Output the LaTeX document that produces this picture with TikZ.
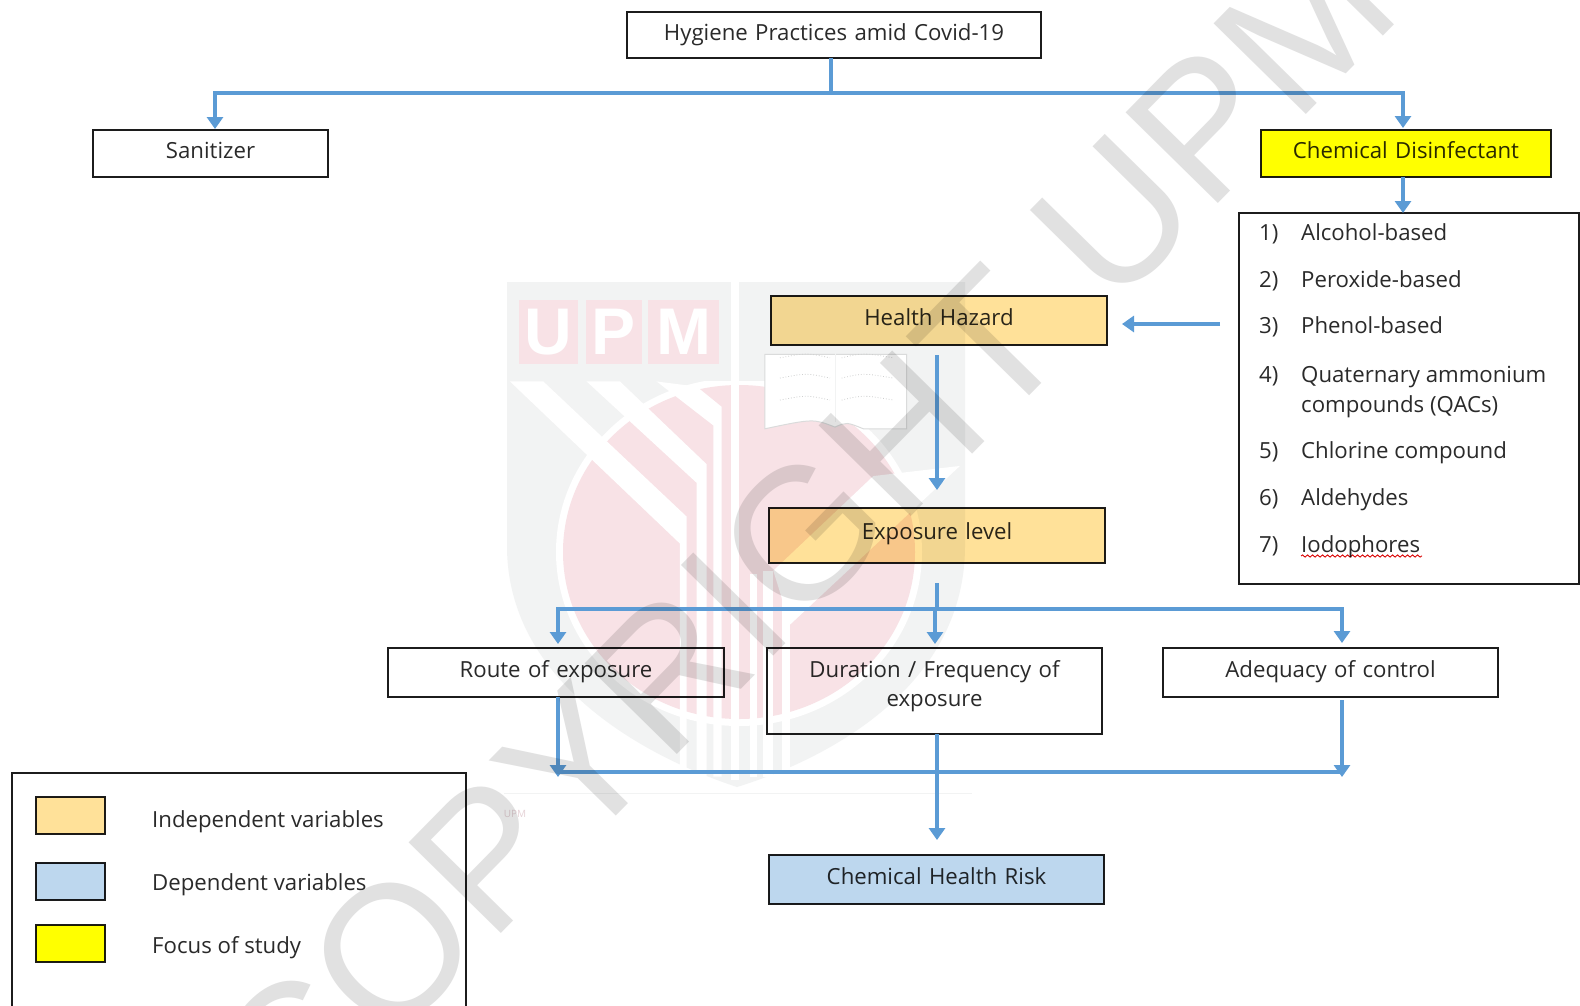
\documentclass[tikz,border=0pt]{standalone}
\usepackage{fontspec}
\setmainfont{Open Sans}
\newfontfamily\wmfont{Liberation Sans}
\usetikzlibrary{arrows.meta,decorations.pathmorphing}
\definecolor{conn}{HTML}{5B9BD5}
\definecolor{indep}{HTML}{FFE199}
\definecolor{dep}{HTML}{BDD7EE}
\definecolor{focus}{HTML}{FFFF00}
\definecolor{frame}{HTML}{1C1C1C}
\definecolor{ink}{HTML}{2A2A2A}
\definecolor{wm}{HTML}{E1E1E1}
\definecolor{shield}{HTML}{F2F3F3}
\definecolor{pinkd}{HTML}{F8E2E6}
\tikzset{
  txt/.style={font=\fontsize{22.2}{29}\selectfont,text=ink},
  boxn/.style={draw=frame,line width=1.8pt,inner sep=0pt,outer sep=0pt,anchor=north west,align=center,txt},
  itemn/.style={anchor=base west,inner sep=0pt,txt},
  swatch/.style={draw=frame,line width=1.8pt,inner sep=0pt,outer sep=0pt,anchor=north west,minimum width=69pt,minimum height=37pt},
  conline/.style={draw=conn,line width=3.8pt},
  conarrow/.style={conline,-{Triangle[length=12pt,width=16pt]}},
  wstripe/.style={fill=white,draw=none},
  logoletter/.style={font=\wmfont\bfseries\fontsize{66}{66}\selectfont,text=white,inner sep=0pt},
}
\begin{document}
\begin{tikzpicture}[x=1pt,y=-1pt]
\useasboundingbox (0,0) rectangle (1580,1005);
\fill[white] (0,0) rectangle (1580,1005);
% UPM logo
\fill[shield] (507,282) -- (965,282) -- (965,546) .. controls (965,680) and (840,755) .. (737,787) .. controls (640,755) and (507,680) .. (507,546) -- cycle;
\fill[white] (739,552) ellipse [x radius=183,y radius=174];
\fill[pinkd] (739,552) ellipse [x radius=176,y radius=167];
\begin{scope}[xshift=480pt,yshift=-270pt,x=0.3333pt,y=-0.3378pt]
  \fill[shield] (80,35) rectangle (1455,330);
  \fill[wstripe] (90,330) -- (190,330) -- (620,730) -- (620,1500) -- (600,1500) -- (600,810) -- cycle;
  \fill[wstripe] (320,330) -- (420,330) -- (680,575) -- (680,1500) -- (650,1500) -- (650,630) -- cycle;
  \fill[wstripe] (530,330) -- (650,345) -- (725,405) -- (725,1500) -- (700,1500) -- (700,460) -- cycle;
  \fill[wstripe] (752,30) rectangle (778,1510);
  \fill[wstripe] (810,900) rectangle (830,1500);
  \fill[wstripe] (850,890) rectangle (880,1500);
  \fill[wstripe] (905,880) rectangle (930,1500);
  \fill[wstripe] (880,890) -- (1180,610) -- (1440,580) -- (930,1050) -- cycle;
  \draw[draw=shield!90!black,line width=1pt,fill=white] (855,250) -- (1280,250) -- (1280,470) -- (1150,470) .. controls (1100,450) .. (1065,465) .. controls (1000,440) .. (855,470) -- cycle;
  \draw[draw=shield,line width=1pt] (1067,230) -- (1067,450);
  \foreach \yy in {260,320,385}{
    \draw[shield!85!black,line width=.8pt,dotted] (900,\yy) .. controls (980,\yy-15) .. (1050,\yy);
    \draw[shield!85!black,line width=.8pt,dotted] (1085,\yy) .. controls (1150,\yy-15) .. (1240,\yy);
  }
\end{scope}
\fill[pinkd] (519,300) rectangle (578,364);
\fill[pinkd] (586,300) rectangle (642,364);
\fill[pinkd] (648,300) rectangle (719,364);
\node[logoletter] (lu) at (548.5,332) {U};
\node[logoletter] (lp) at (614,332) {P};
\node[logoletter] (lm) at (683.5,332) {M};
\node[font=\fontsize{10}{10}\selectfont,text=pinkd!85!gray,inner sep=0pt] (lt) at (515,814) {UPM};
\draw[shield,line width=1pt] (504,793) -- (972,793);
% boxes multiply over the logo
\begin{scope}[blend mode=multiply]
\node[boxn,text width=414pt,text height=28pt,text depth=18pt] (top) at (627,12) {Hygiene Practices amid Covid-19};
\node[boxn,text width=235pt,text height=28pt,text depth=19pt] (san) at (93,130) {Sanitizer};
\node[boxn,fill=focus,text width=290pt,text height=28pt,text depth=19pt] (chem) at (1261,130) {Chemical Disinfectant};
\node[draw=frame,line width=1.8pt,inner sep=0pt,outer sep=0pt,anchor=north west,minimum width=340pt,minimum height=371pt] (list) at (1239,213) {};
\node[boxn,fill=indep,text width=336pt,text height=29pt,text depth=20pt] (health) at (771,296) {Health Hazard};
\node[boxn,fill=indep,text width=336pt,text height=31pt,text depth=24pt] (expo) at (769,508) {Exposure level};
\node[boxn,text width=336pt,text height=29pt,text depth=20pt] (route) at (388,648) {Route of exposure};
\node[boxn,text width=335pt,text height=29pt,text depth=57pt] (dur) at (767,648) {Duration / Frequency of\\exposure};
\node[boxn,text width=335pt,text height=29pt,text depth=20pt] (adeq) at (1163,648) {Adequacy of control};
\node[boxn,fill=dep,text width=335pt,text height=29pt,text depth=20pt] (risk) at (769,855) {Chemical Health Risk};
% list items
\foreach \n/\nb/\t/\b in {a/1)/Alcohol-based/240,b/2)/Peroxide-based/287,c/3)/Phenol-based/333,d/4)/Quaternary ammonium/382,f/5)/Chlorine compound/458,g/6)/Aldehydes/505,h/7)/Iodophores/552}{
  \node[itemn] (num\n) at (1259,\b) {\nb};
  \node[itemn] (item\n) at (1301,\b) {\t};
}
\node[itemn] (iteme) at (1301,412) {compounds (QACs)};
\draw[red!85!black,line width=.9pt,decorate,decoration={snake,amplitude=1.1pt,segment length=5pt}] (itemh.base west)++(0,4) -- ++(121,0);
% legend
\node[draw=frame,line width=1.8pt,inner sep=0pt,outer sep=0pt,anchor=north west,minimum width=454pt,minimum height=245pt] (legend) at (12,773) {};
\node[swatch,fill=indep] (s1) at (36,797) {};
\node[swatch,fill=dep] (s2) at (36,863) {};
\node[swatch,fill=focus] (s3) at (36,925) {};
\node[itemn] (l1) at (152,827) {Independent variables};
\node[itemn] (l2) at (152,890) {Dependent variables};
\node[itemn] (l3) at (152,953) {Focus of study};
\end{scope}
% connectors
\coordinate (jm) at (831,93);
\coordinate (jl) at (215,93);
\coordinate (jr) at (1403,93);
\coordinate (bus) at (937,609);
\coordinate (busl) at (558,609);
\coordinate (busc) at (935,609);
\coordinate (busr) at (1342,609);
\coordinate (low) at (937,772);
\coordinate (lowl) at (558,772);
\coordinate (lowr) at (1342,772);
\coordinate (lowlt) at (558,777);
\coordinate (lowrt) at (1342,777);
\coordinate (hy) at (1107,324);
\draw[conline] (top.south -| jm) -- (jm);
\draw[conline] ([xshift=-1.9pt]jl) -- ([xshift=1.9pt]jr);
\draw[conarrow,shorten >=1pt] (jl) -- (jl |- san.north);
\draw[conarrow,shorten >=2pt] (jr) -- (jr |- chem.north);
\draw[conarrow,shorten >=0pt] (jr |- chem.south) -- (jr |- list.north);
\draw[conarrow,shorten <=19pt,shorten >=15pt] (list.west |- hy) -- (hy);
\draw[conarrow,shorten <=10pt,shorten >=18pt] (bus |- health.south) -- (bus |- expo.north);
\draw[conline,shorten <=20pt] (bus |- expo.south) -- (bus);
\draw[conline] ([xshift=-1.9pt]busl) -- ([xshift=1.9pt]busr);
\draw[conarrow,shorten >=4pt] (busl) -- (busl |- route.north);
\draw[conarrow,shorten >=4pt] (busc) -- (busc |- dur.north);
\draw[conarrow,shorten >=5pt] (busr) -- (busr |- adeq.north);
\draw[conline] (lowl) -- (lowr);
\draw[conarrow] (lowl |- route.south) -- (lowlt);
\draw[conarrow,shorten <=3pt] (lowr |- adeq.south) -- (lowrt);
\draw[conarrow,shorten >=15pt] (low |- dur.south) -- (low |- risk.north);
% watermark
\begin{scope}[blend mode=multiply]
\node[font=\wmfont\fontsize{188}{188}\selectfont,text=wm,rotate=45.5,inner sep=0pt] (wmark) at (803,534) {COPYRIGHT UPM};
\end{scope}
\end{tikzpicture}
\end{document}
